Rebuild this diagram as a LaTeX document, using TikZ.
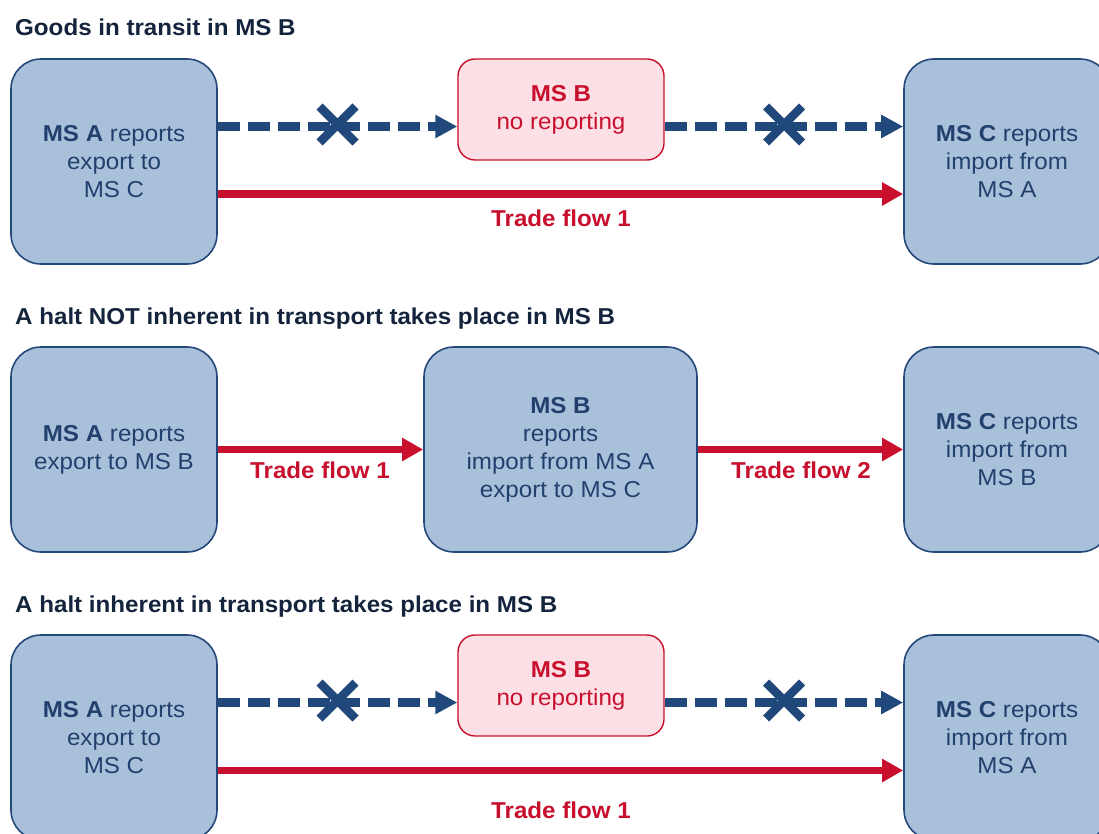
\documentclass[tikz,border=0pt]{standalone}
\usepackage{fontspec}
\setmainfont[FakeStretch=1.05]{Liberation Sans}
\usetikzlibrary{arrows.meta}

\definecolor{boxfill}{HTML}{A9C0DA}
\definecolor{boxline}{HTML}{24487A}
\definecolor{boxtext}{HTML}{22406E}
\definecolor{flowred}{HTML}{C8102E}
\definecolor{pinkfill}{HTML}{FDE0E5}
\definecolor{titlecol}{HTML}{15243D}
\definecolor{dashblue}{HTML}{21487B}

\tikzset{
  boxfont/.style={font=\fontsize{23}{28}\selectfont},
  country/.style={boxfont, draw=boxline, line width=1.6pt, fill=boxfill,
    rounded corners=30pt, minimum width=206pt, minimum height=205pt,
    align=center, text=boxtext, inner sep=0pt},
  wide/.style={country, minimum width=273pt},
  transit/.style={boxfont, draw=flowred, line width=1.4pt, fill=pinkfill,
    rounded corners=17pt, minimum width=206pt, minimum height=101pt,
    align=center, text=flowred, inner sep=0pt},
  heading/.style={font=\fontsize{23}{27}\selectfont\bfseries, text=titlecol,
    anchor=base west, inner sep=0pt},
  flowlabel/.style={font=\fontsize{23}{28}\selectfont\bfseries, text=flowred,
    anchor=base, inner sep=0pt},
  flow/.style={draw=flowred, line width=7.5pt,
    -{Triangle[length=21pt,width=22pt]}},
  noflow/.style={draw=dashblue, line width=8.5pt, dash pattern=on 22pt off 8pt,
    -{Triangle[length=22pt,width=22pt]}},
  cross/.style={draw=dashblue, line width=8.5pt},
}

\begin{document}
\begin{tikzpicture}[x=1pt,y=-1pt]
\useasboundingbox (0,0) rectangle (1099,834);

% ---------- Goods in transit ----------
\node[heading] (h1) at (15,36) {Goods in transit in MS B};
\node[country] (a1) at (114,161.5) {\textbf{MS A} reports\\export to\\MS C};
\node[transit] (b1) at (561,109.5) {\textbf{MS B}\\no reporting};
\node[country] (c1) at (1007,161.5) {\textbf{MS C} reports\\import from\\MS A};
\coordinate (m1) at ([yshift=-17pt]b1.west);
\coordinate (n1) at ([yshift=-17pt]b1.east);
\draw[noflow] (a1.east |- m1) -- (m1);
\draw[noflow] (n1) -- (c1.west |- n1);
\coordinate (r1) at ([yshift=-32.5pt]a1.east);
\draw[flow] (r1) -- (c1.west |- r1);
\node[flowlabel] (l1) at (561,227) {Trade flow 1};
\draw[cross] (337.5,124.5) +(-18,-18) -- +(18,18) +(-18,18) -- +(18,-18);
\draw[cross] (784,124.5) +(-18,-18) -- +(18,18) +(-18,18) -- +(18,-18);

% ---------- Halt not inherent in transport ----------
\node[heading] (h2) at (15,324) {A halt NOT inherent in transport takes place in MS B};
\node[country] (a2) at (114,449.5) {\textbf{MS A} reports\\export to MS B};
\node[wide] (b2) at (560.5,449.5) {\textbf{MS B}\\reports\\import from MS A\\export to MS C};
\node[country] (c2) at (1007,449.5) {\textbf{MS C} reports\\import from\\MS B};
\draw[flow] (a2) -- (b2);
\draw[flow] (b2) -- (c2);
\node[flowlabel] (l2) at (320,478) {Trade flow 1};
\node[flowlabel] (l3) at (801,478) {Trade flow 2};

% ---------- Halt inherent in transport ----------
\node[heading] (h3) at (15,612) {A halt inherent in transport takes place in MS B};
\node[country] (a3) at (114,737.5) {\textbf{MS A} reports\\export to\\MS C};
\node[transit] (b3) at (561,685.5) {\textbf{MS B}\\no reporting};
\node[country] (c3) at (1007,737.5) {\textbf{MS C} reports\\import from\\MS A};
\coordinate (m3) at ([yshift=-17pt]b3.west);
\coordinate (n3) at ([yshift=-17pt]b3.east);
\draw[noflow] (a3.east |- m3) -- (m3);
\draw[noflow] (n3) -- (c3.west |- n3);
\coordinate (r3) at ([yshift=-33pt]a3.east);
\draw[flow] (r3) -- (c3.west |- r3);
\node[flowlabel] (l4) at (561,818) {Trade flow 1};
\draw[cross] (337.5,700.5) +(-18,-18) -- +(18,18) +(-18,18) -- +(18,-18);
\draw[cross] (784,700.5) +(-18,-18) -- +(18,18) +(-18,18) -- +(18,-18);
\end{tikzpicture}
\end{document}
